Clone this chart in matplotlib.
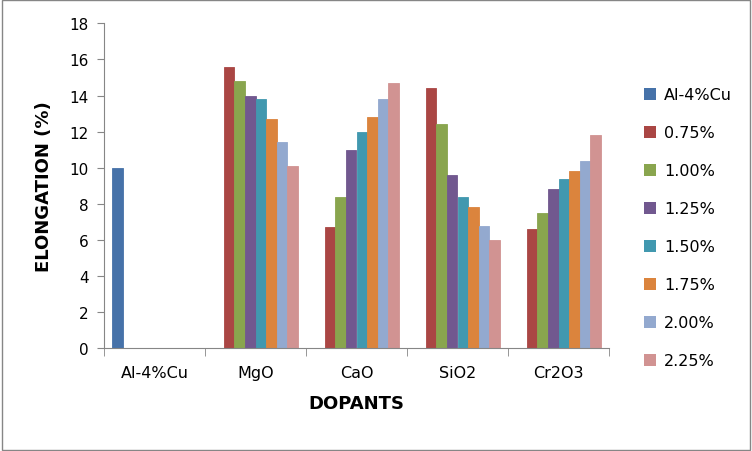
import numpy as np
import matplotlib.pyplot as plt
from matplotlib.patches import Patch, Rectangle

# ==========================================
# DATA
# ==========================================
categories = ['Al-4%Cu', 'MgO', 'CaO', 'SiO2', 'Cr2O3']
series_names = ['Al-4%Cu', '0.75%', '1.00%', '1.25%', '1.50%', '1.75%', '2.00%', '2.25%']

# values per series, one value per category (0 = no bar)
al_4cu = [10.0, 0, 0, 0, 0]
pct_075 = [0, 15.6, 6.7, 14.4, 6.6]
pct_100 = [0, 14.8, 8.4, 12.4, 7.5]
pct_125 = [0, 14.0, 11.0, 9.6, 8.8]
pct_150 = [0, 13.8, 12.0, 8.4, 9.4]
pct_175 = [0, 12.7, 12.8, 7.8, 9.8]
pct_200 = [0, 11.4, 13.8, 6.8, 10.4]
pct_225 = [0, 10.1, 14.7, 6.0, 11.8]

series_values = [al_4cu, pct_075, pct_100, pct_125, pct_150, pct_175, pct_200, pct_225]
colors = ['#4672A9', '#AA4644', '#89A54E', '#71588F', '#4198AF', '#DB843D', '#93A9CF', '#D19392']

# ==========================================
# PLOT
# ==========================================
fig = plt.figure(figsize=(7.52, 4.52), dpi=100)
ax = fig.add_axes([104 / 752, 1 - 349.3 / 452, (609 - 104) / 752, (349.3 - 24.3) / 452])

n = len(series_names)
bar_w = 1 / (n + 1.5)
x = np.arange(len(categories))
for i, (vals, col) in enumerate(zip(series_values, colors)):
    offs = (i - (n - 1) / 2) * bar_w
    # thin edge in the same colour so neighbouring bars touch without white seams
    ax.bar(x + offs, vals, width=bar_w, color=col, edgecolor=col, linewidth=0.6)

ax.set_xlim(-0.5, len(categories) - 0.5)
ax.set_ylim(0, 18)
ax.set_yticks(range(0, 19, 2))
ax.tick_params(axis='y', labelsize=11, length=5, color='#868686', pad=6)

# category labels centred, tick marks on the boundaries
ax.set_xticks(x)
ax.set_xticklabels(categories, fontsize=11.5)
ax.tick_params(axis='x', length=0, pad=12)
ax.set_xticks(np.arange(-0.5, len(categories)), minor=True)
ax.tick_params(axis='x', which='minor', length=6, color='#868686')

for s in ['top', 'right']:
    ax.spines[s].set_visible(False)
for s in ['left', 'bottom']:
    ax.spines[s].set_color('#868686')

ax.set_ylabel('ELONGATION (%)', fontsize=13, fontweight='bold', labelpad=12)
ax.set_xlabel('DOPANTS', fontsize=13, fontweight='bold', labelpad=10)

handles = [Patch(facecolor=c, edgecolor='none') for c in colors]
fig.legend(handles, series_names, loc='upper left', bbox_to_anchor=(630 / 752, 1 - 74 / 452),
           frameon=False, fontsize=11.5, labelspacing=1.44, handlelength=0.75, handleheight=0.75,
           handletextpad=0.5)

# outer border
fig.patches.append(Rectangle((0.002, 0.002), 0.996, 0.996, transform=fig.transFigure,
                             fill=False, edgecolor='#868686', linewidth=1))

fig.savefig('out.png', dpi=100)
